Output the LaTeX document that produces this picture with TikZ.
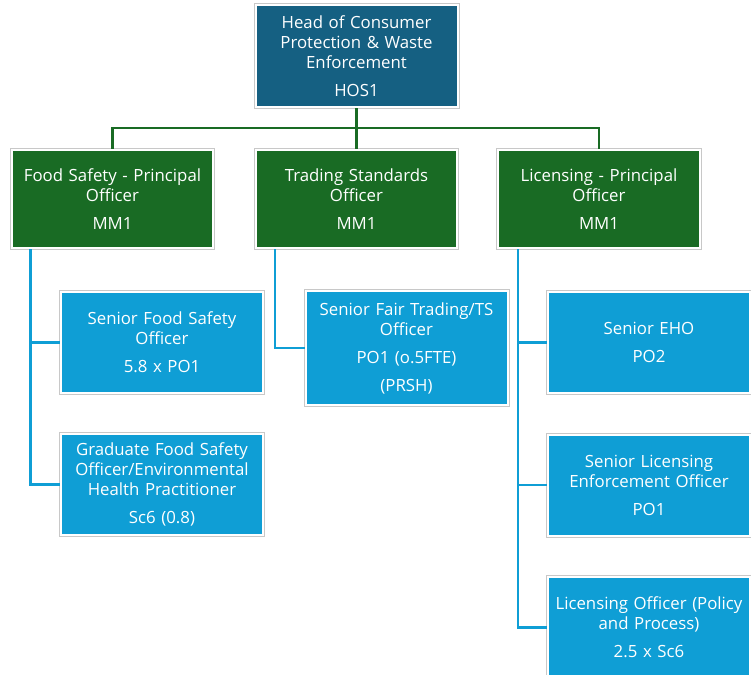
\documentclass[tikz,border=0pt]{standalone}
\usepackage{fontspec}
\setmainfont{Open Sans}

\definecolor{headblue}{RGB}{21,96,130}
\definecolor{mmgreen}{RGB}{25,107,36}
\definecolor{poblue}{RGB}{15,158,213}
\definecolor{boxedge}{RGB}{200,200,200}

\begin{document}
\begin{tikzpicture}[x=0.75pt,y=0.75pt,yscale=-1,xscale=1,
  post/.style={rectangle, inner sep=1pt, align=center, text=white,
    font=\fontsize{12.6}{15}\selectfont, text width=149pt,
    draw=white, line width=1.5pt, preaction={draw=boxedge, line width=3pt}},
  headbox/.style={post, fill=headblue, minimum width=151.5pt, minimum height=76.5pt},
  mmbox/.style={post, fill=mmgreen, minimum width=150.75pt, minimum height=73.5pt},
  pobox/.style={post, fill=poblue, minimum width=151.5pt, minimum height=75.75pt},
  mmline/.style={draw=mmgreen, line width=2pt},
  poline/.style={draw=poblue, line width=2pt}]
\useasboundingbox (0,0) rectangle (751,675);

% head of service
\node [headbox] (head) at (356.5,56) {Head of Consumer\\Protection \& Waste\\Enforcement\\[6pt]HOS1};

% principal officers
\node [mmbox] (food) at (112.5,199) {Food Safety - Principal\\Officer\\[6pt]MM1};
\node [mmbox] (trading) at (356.5,199) {Trading Standards\\Officer\\[6pt]MM1};
\node [mmbox] (lic) at (599,199) {Licensing - Principal\\Officer\\[6pt]MM1};

% food safety team
\node [pobox] (sfso) at (162,342.5) {Senior Food Safety\\Officer\\[6pt]5.8 x PO1};
\node [pobox] (grad) at (162,484.5) {Graduate Food Safety\\Officer/Environmental\\Health Practitioner\\[6pt]Sc6 (0.8)};

% trading standards team
\node [pobox, minimum height=85.5pt] (sft) at (406.5,348) {Senior Fair Trading/TS\\Officer\\[6pt]PO1 (o.5FTE)\\[6pt](PRSH)};

% licensing team
\node [pobox] (seho) at (649,342.5) {Senior EHO\\[6pt]PO2};
\node [pobox] (slic) at (649,485) {Senior Licensing\\Enforcement Officer\\[6pt]PO1};
\node [pobox] (loff) at (649,627.5) {Licensing Officer (Policy\\and Process)\\[6pt]2.5 x Sc6};

% green connectors
\coordinate (bus) at (356.5,128);
\draw [mmline] (head.south) -- (bus);
\draw [mmline] (bus) -| (food.north);
\draw [mmline] (bus) -| (lic.north);
\draw [mmline] (bus) -- (trading.north);

% blue connectors
\draw [poline] ([xshift=14.5pt]food.south west) |- (sfso.west);
\draw [poline] ([xshift=14.5pt]food.south west) |- (grad.west);
\draw [poline] ([xshift=15pt]trading.south west) |- (sft.west);
\draw [poline] ([xshift=15.5pt]lic.south west) |- (seho.west);
\draw [poline] ([xshift=15.5pt]lic.south west) |- (slic.west);
\draw [poline] ([xshift=15.5pt]lic.south west) |- (loff.west);

\end{tikzpicture}
\end{document}
